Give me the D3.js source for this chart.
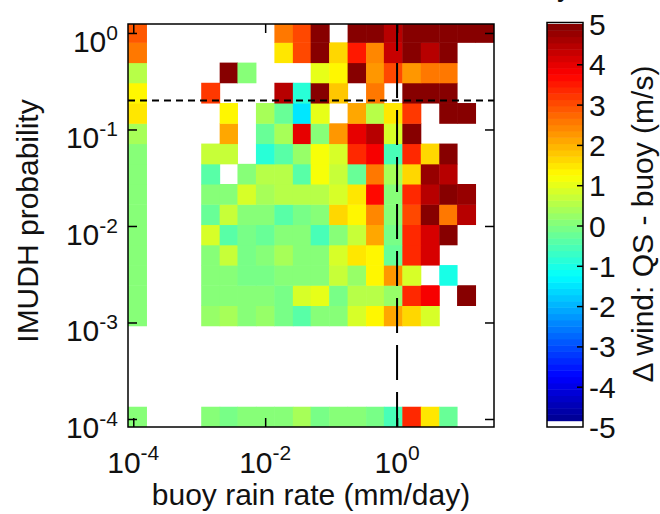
<!DOCTYPE html>
<html>
<head>
<meta charset="utf-8">
<script src="https://cdn.jsdelivr.net/npm/d3@7"></script>
<style>
  body { margin: 0; background: #fff; }
  text { font-family: "Liberation Sans", Arial, sans-serif; fill: #111; }
</style>
</head>
<body>
<div id="chart"></div>
<script>
// Bin edges, as log10 of the value
const rainEdgesLog = [-4.08, -3.80, -3.53, -3.25, -2.97, -2.69, -2.42, -2.14, -1.86, -1.58, -1.31,
  -1.03, -0.75, -0.47, -0.20, 0.08, 0.36, 0.64, 0.91, 1.19, 1.47];
const probEdgesLog = [-4.083, -3.873, -3.663, -3.454, -3.244, -3.034, -2.824, -2.614, -2.405, -2.195,
  -1.985, -1.775, -1.565, -1.356, -1.146, -0.936, -0.726, -0.516, -0.307, -0.097, 0.113];

// Delta wind (QS - buoy, m/s); rows go from lowest probability bin up, null = no data
const _ = null;
const deltaWind = [
  [0.1, _, _, _, 0.1, -0.1, 0, 0.1, 0, 0.4, -0.05, 0.1, 0, -0.1, -0.6, 3.3, 1.5, -0.3, _, _],
  [_, _, _, _, _, _, _, _, _, _, _, _, _, _, _, _, _, _, _, _],
  [_, _, _, _, _, _, _, _, _, _, _, _, _, _, _, _, _, _, _, _],
  [_, _, _, _, _, _, _, _, _, _, _, _, _, _, _, _, _, _, _, _],
  [_, _, _, _, _, _, _, _, _, _, _, _, _, _, _, _, _, _, _, _],
  [0, _, _, _, 0.2, 0.4, 0.1, 0.2, -0.1, -0.4, 0.1, 0.1, 0.9, 1.25, 2.1, 1.6, 0.8, _, _, _],
  [0, _, _, _, 0, 0.1, 0.1, 0, -0.1, 0.8, 1.0, -0.1, 0.6, 0.6, 0.2, 3.4, 3.75, _, 5, _],
  [0, _, _, _, 0, 0.1, -0.1, -0.1, 0, 0.1, 0.1, 0.7, 0.2, 1.3, 2.3, 0.9, _, -1.0, _, _],
  [0, _, _, _, 0, 0.7, -0.1, 0.1, 0.4, 0, 0, 0.8, 1.5, 1.3, -0.3, 3.4, 4.2, _, _, _],
  [0, _, _, _, 0.8, -0.4, -0.1, -0.3, 0, 0, -0.5, 0.1, 0.7, 2.1, -0.1, 3.3, 4.2, 5, _, _],
  [0, _, _, _, -0.2, 0.7, 0, 0, -0.4, -0.1, 0, 1.7, 1.25, 2.4, 0, 3.0, 5, 2.5, 4.5, _],
  [0, _, _, _, 0, 0.1, 0.8, 0.4, 0.6, 0.6, 0.6, 0.8, 1.5, 3.6, 0, 3.4, 4.5, 5, 4.7, _],
  [0, _, _, _, -0.4, _, 0, 0.6, 0.6, -0.4, 1.1, 0.7, -0.2, 2.6, 0.4, 1.6, 4.7, 4.5, _, _],
  [0, _, _, _, 0.7, 0.7, _, -0.9, -0.4, 0.2, 1.1, 0.8, 3.4, 3.75, -0.5, 3.4, 1.6, 5, _, _],
  [0.4, _, _, _, _, 2.1, _, -0.3, 0.4, 4.0, 0, 2.2, 4.0, 4.4, 0.9, 5, _, _, _, _],
  [1.5, _, _, _, _, 1.25, _, 0.4, -0.2, -1.5, 1.0, _, 2.1, 0.6, 1.5, 3.2, _, 5, 5, _],
  [1.25, _, _, _, 3.2, _, _, _, 4.4, -0.8, 5, 1.8, _, 2.6, _, 5, 5, 5, _, _],
  [0.6, _, _, _, _, 5, 0, _, _, _, 1.0, 1.4, 5, 2.2, 3.1, 2.3, 2.5, 2.5, _, _],
  [2.5, _, _, _, _, _, _, _, 1.5, 3.1, 5, 1.7, 3.5, 2.4, 4.3, 5, 4.5, 5, _, _],
  [2.9, _, _, _, _, _, _, _, 2.5, 3.1, 4.9, _, 5, 5, 4.4, 5, 5, 5, 5, 5]
];

// Axis ticks and reference lines
const xTickExps = [-4, -2, 0];
const yTickExps = [0, -1, -2, -3, -4];
const cbarTicks = [5, 4, 3, 2, 1, 0, -1, -2, -3, -4, -5];
const probThreshold = 0.2;
const rainThreshold = 1;

const width = 660;
const height = 514;
const plot = { left: 128, right: 494, top: 24, bottom: 427 };
const cbar = { left: 547, right: 583, top: 24, bottom: 427 };

const svg = d3.select('#chart')
  .append('svg')
  .attr('width', width)
  .attr('height', height);

const x = d3.scaleLog()
  .domain([Math.pow(10, -4.08), Math.pow(10, 1.47)])
  .range([plot.left, plot.right]);
const y = d3.scaleLog()
  .domain([Math.pow(10, -4.083), Math.pow(10, 0.093)])
  .range([plot.bottom, plot.top]);

// jet(64) with the first entry white, as in the original colormap
function jet(t) {
  const c = v => Math.max(0, Math.min(1, v));
  return d3.rgb(
    255 * c(1.5 - Math.abs(4 * t - 3)),
    255 * c(1.5 - Math.abs(4 * t - 2)),
    255 * c(1.5 - Math.abs(4 * t - 1))
  ).formatHex();
}
const palette = d3.range(64).map(k => (k === 0 ? '#ffffff' : jet((k + 0.5) / 64)));
const color = d3.scaleQuantize().domain([-5, 5]).range(palette);

svg.append('clipPath').attr('id', 'plot-clip')
  .append('rect')
  .attr('x', plot.left).attr('y', plot.top)
  .attr('width', plot.right - plot.left).attr('height', plot.bottom - plot.top);

const cells = [];
deltaWind.forEach((row, j) => {
  row.forEach((v, i) => {
    if (v !== null) cells.push({ i, j, v });
  });
});

svg.append('g')
  .attr('clip-path', 'url(#plot-clip)')
  .selectAll('rect')
  .data(cells)
  .enter()
  .append('rect')
  .attr('x', d => x(Math.pow(10, rainEdgesLog[d.i])))
  .attr('width', d => x(Math.pow(10, rainEdgesLog[d.i + 1])) - x(Math.pow(10, rainEdgesLog[d.i])) + 0.5)
  .attr('y', d => y(Math.pow(10, probEdgesLog[d.j + 1])))
  .attr('height', d => y(Math.pow(10, probEdgesLog[d.j])) - y(Math.pow(10, probEdgesLog[d.j + 1])) + 0.5)
  .style('fill', d => color(d.v));

// reference lines
svg.append('line')
  .attr('x1', x(rainThreshold)).attr('x2', x(rainThreshold))
  .attr('y1', plot.bottom).attr('y2', plot.top)
  .style('stroke', '#000').style('stroke-width', 2)
  .style('stroke-dasharray', '35,12');
svg.append('line')
  .attr('x1', plot.left).attr('x2', plot.right)
  .attr('y1', y(probThreshold)).attr('y2', y(probThreshold))
  .style('stroke', '#000').style('stroke-width', 2)
  .style('stroke-dasharray', '7,5');

// axes: inward ticks on all four sides
const xTicks = xTickExps.map(e => Math.pow(10, e));
const yTicks = yTickExps.map(e => Math.pow(10, e));
const axisStyle = g => {
  g.select('.domain').remove();
  g.selectAll('line').style('stroke', '#000').style('stroke-width', 1.5);
};
svg.append('g').attr('transform', `translate(0,${plot.bottom})`)
  .call(d3.axisBottom(x).tickValues(xTicks).tickSize(-9).tickFormat(''))
  .call(axisStyle);
svg.append('g').attr('transform', `translate(0,${plot.top})`)
  .call(d3.axisTop(x).tickValues(xTicks).tickSize(-9).tickFormat(''))
  .call(axisStyle);
svg.append('g').attr('transform', `translate(${plot.left},0)`)
  .call(d3.axisLeft(y).tickValues(yTicks).tickSize(-9).tickFormat(''))
  .call(axisStyle);
svg.append('g').attr('transform', `translate(${plot.right},0)`)
  .call(d3.axisRight(y).tickValues(yTicks).tickSize(-9).tickFormat(''))
  .call(axisStyle);

svg.append('rect')
  .attr('x', plot.left).attr('y', plot.top)
  .attr('width', plot.right - plot.left).attr('height', plot.bottom - plot.top)
  .style('fill', 'none').style('stroke', '#000').style('stroke-width', 1.5);

// tick labels as 10^n
xTickExps.forEach(e => {
  const t = svg.append('text')
    .attr('x', x(Math.pow(10, e))).attr('y', 473)
    .attr('text-anchor', 'middle')
    .style('font-size', '30px');
  t.append('tspan').text('10');
  t.append('tspan').attr('dy', -13).style('font-size', '21px').text(e);
});
yTickExps.forEach(e => {
  const t = svg.append('text')
    .attr('x', 118).attr('y', y(Math.pow(10, e)) + 19)
    .attr('text-anchor', 'end')
    .style('font-size', '30px');
  t.append('tspan').text('10');
  t.append('tspan').attr('dy', -12).style('font-size', '21px').text(e);
});

svg.append('text')
  .attr('x', (plot.left + plot.right) / 2).attr('y', 505)
  .attr('text-anchor', 'middle')
  .style('font-size', '30px')
  .text('buoy rain rate (mm/day)');
svg.append('text')
  .attr('transform', `translate(38,221) rotate(-90)`)
  .attr('text-anchor', 'middle')
  .style('font-size', '30px')
  .text('IMUDH probability');

// clipped title remnant at the very top
svg.append('text')
  .attr('x', 557).attr('y', -4)
  .style('font-size', '30px')
  .text('y');

// colorbar
const cy = d3.scaleLinear().domain([-5, 5]).range([cbar.bottom, cbar.top]);
const step = 10 / palette.length;
svg.append('g')
  .selectAll('rect')
  .data(palette)
  .enter()
  .append('rect')
  .attr('x', cbar.left)
  .attr('width', cbar.right - cbar.left)
  .attr('y', (d, k) => cy(-5 + (k + 1) * step))
  .attr('height', (d, k) => cy(-5 + k * step) - cy(-5 + (k + 1) * step) + 0.5)
  .style('fill', d => d);

svg.append('g').attr('transform', `translate(${cbar.right},0)`)
  .call(d3.axisRight(cy).tickValues(cbarTicks.slice(1, -1)).tickSize(-6).tickFormat(''))
  .call(axisStyle);

svg.append('rect')
  .attr('x', cbar.left).attr('y', cbar.top - 1.5)
  .attr('width', cbar.right - cbar.left).attr('height', cbar.bottom - cbar.top + 1.5)
  .style('fill', 'none').style('stroke', '#000').style('stroke-width', 1.5);

svg.append('g')
  .selectAll('text')
  .data(cbarTicks)
  .enter()
  .append('text')
  .attr('x', 589)
  .attr('y', d => cy(d) + 11)
  .style('font-size', '30px')
  .text(d => d);

svg.append('text')
  .attr('transform', `translate(653,224) rotate(-90)`)
  .attr('text-anchor', 'middle')
  .style('font-size', '30px')
  .text('Δ wind: QS - buoy (m/s)');
</script>
</body>
</html>
